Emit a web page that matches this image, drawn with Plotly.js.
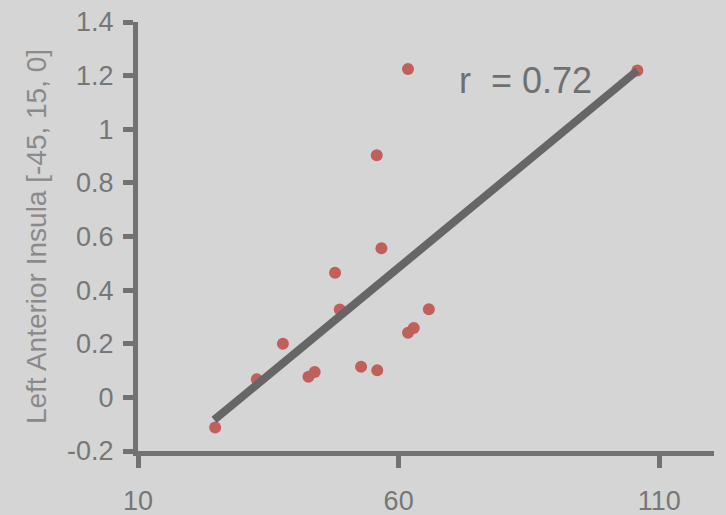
<!DOCTYPE html>
<html>
<head>
<meta charset="utf-8">
<script src="https://cdn.plot.ly/plotly-3.0.1.min.js"></script>
<style>
  html, body { margin: 0; padding: 0; background: #d5d5d5; }
  #chart { width: 726px; height: 515px; }
</style>
</head>
<body>
<div id="chart"></div>
<script>
// Data
const xValues = [61.8, 55.8, 56.7, 47.8, 48.7, 65.8, 62.9, 61.8, 37.8, 52.8, 55.9, 43.9, 42.7, 32.8, 24.8, 105.8];
const yValues = [1.225, 0.903, 0.556, 0.465, 0.328, 0.329, 0.259, 0.241, 0.200, 0.114, 0.101, 0.095, 0.077, 0.068, -0.112, 1.219];
const fitX = [24.6, 105.8];
const fitY = [-0.084, 1.219];
const rLabel = 'r\u00a0 = 0.72';
const xTickVals = [10, 60, 110];
const xTickText = ['10', '60', '110'];
const yTickVals = [-0.2, 0, 0.2, 0.4, 0.6, 0.8, 1, 1.2, 1.4];
const yTickText = ['-0.2', '0', '0.2', '0.4', '0.6', '0.8', '1', '1.2', '1.4'];
const yTitle = 'Left Anterior Insula [-45, 15, 0]';

const FONT = 'Liberation Sans, Arial, sans-serif';

const traces = [
  {
    x: xValues, y: yValues, type: 'scatter', mode: 'markers',
    marker: { color: '#c1605a', size: 12 },
    hoverinfo: 'skip', cliponaxis: false
  },
  {
    x: fitX, y: fitY, type: 'scatter', mode: 'lines',
    line: { color: '#666666', width: 8 },
    hoverinfo: 'skip', cliponaxis: false
  }
];

const layout = {
  width: 726, height: 515,
  paper_bgcolor: '#d5d5d5', plot_bgcolor: '#d5d5d5',
  margin: { l: 138, r: 12, t: 22, b: 64 },
  showlegend: false,
  font: { family: FONT, color: '#777777' },
  xaxis: {
    range: [10, 120.5], showgrid: false, zeroline: false,
    showline: true, linecolor: '#727272', linewidth: 5,
    ticks: 'outside', ticklen: 12, tickwidth: 5, tickcolor: '#727272',
    tickvals: xTickVals, ticktext: xTickText, ticklabelstandoff: 10,
    tickfont: { size: 27, color: '#777777', family: FONT }
  },
  yaxis: {
    range: [-0.2, 1.4], showgrid: false, zeroline: false,
    showline: true, linecolor: '#727272', linewidth: 5,
    ticks: 'outside', ticklen: 10, tickwidth: 5, tickcolor: '#727272',
    tickvals: yTickVals, ticktext: yTickText, ticklabelstandoff: 4,
    tickfont: { size: 27, color: '#777777', family: FONT },
    title: { text: yTitle, font: { size: 28, color: '#8a8a8a', family: FONT }, standoff: 14 }
  },
  annotations: [
    {
      x: 84.3, y: 1.18, xref: 'x', yref: 'y', text: rLabel, showarrow: false,
      font: { size: 36, color: '#707070', family: FONT }
    }
  ]
};

Plotly.newPlot('chart', traces, layout, { staticPlot: true, displayModeBar: false });
</script>
</body>
</html>
